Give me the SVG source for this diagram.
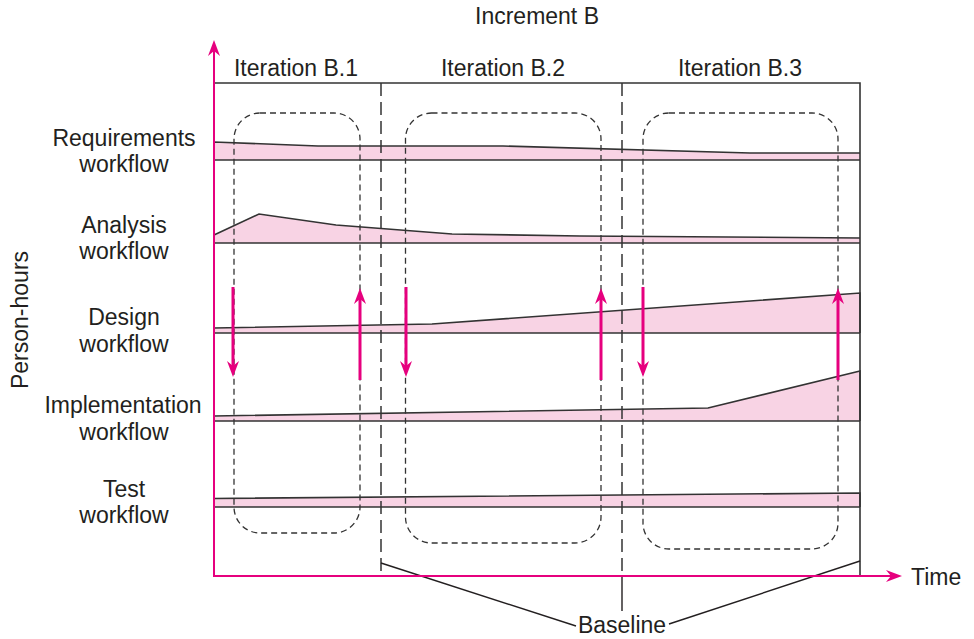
<svg xmlns="http://www.w3.org/2000/svg" width="974" height="639" viewBox="0 0 974 639">
<style>
  text { font-family: "Liberation Sans", Arial, sans-serif; font-size: 23px; fill: #231f20; }
  .lbl { text-anchor: middle; }
  .band { fill: #f8d3e4; stroke: none; }
  .edge { fill: none; stroke: #333333; stroke-width: 1.6; }
  .frame { fill: none; stroke: #333333; stroke-width: 1.6; }
  .iter { fill: none; stroke: #333333; stroke-width: 1.3; stroke-dasharray: 6 4; }
  .base { fill: none; stroke: #333333; stroke-width: 1.5; stroke-dasharray: 13 6; }
  .lead { fill: none; stroke: #231f20; stroke-width: 1.4; }
  .flow { fill: none; stroke: #e6007e; stroke-width: 3; marker-end: url(#ah); }
  .axis { fill: none; stroke: #e6007e; stroke-width: 2; marker-end: url(#ax); }
</style>
<defs>
  <marker id="ah" markerUnits="userSpaceOnUse" markerWidth="18" markerHeight="14" viewBox="0 -7 18 14" refX="5" refY="0" orient="auto">
    <path d="M0,-6 L16,0 L0,6 L5,0 Z" fill="#e6007e"/>
  </marker>
  <marker id="ax" markerUnits="userSpaceOnUse" markerWidth="18" markerHeight="14" viewBox="0 -7 18 14" refX="5" refY="0" orient="auto">
    <path d="M0,-6 L16,0 L0,6 L5,0 Z" fill="#e6007e"/>
  </marker>
</defs>

<rect width="974" height="639" fill="#ffffff"/>

<text class="lbl" x="537" y="24">Increment B</text>
<text class="lbl" x="296" y="76">Iteration B.1</text>
<text class="lbl" x="503" y="76">Iteration B.2</text>
<text class="lbl" x="740" y="76">Iteration B.3</text>
<text class="lbl" transform="translate(28,320) rotate(-90)">Person-hours</text>
<text x="911" y="585">Time</text>

<g id="requirements">
  <polygon class="band" points="214,142 318,146 503,146 750,153 860,153 860,160 214,160"/>
  <polyline class="edge" points="214,160 214,142 318,146 503,146 750,153 860,153"/>
  <line class="edge" x1="214" y1="160" x2="860" y2="160"/>
  <text class="lbl" x="124" y="146">Requirements</text>
  <text class="lbl" x="124" y="172">workflow</text>
</g>
<g id="analysis">
  <polygon class="band" points="214,235 259,214 336,225 452,234 580,236 860,238 860,243 214,243"/>
  <polyline class="edge" points="214,235 259,214 336,225 452,234 580,236 860,238"/>
  <line class="edge" x1="214" y1="243" x2="860" y2="243"/>
  <text class="lbl" x="124" y="233">Analysis</text>
  <text class="lbl" x="124" y="259">workflow</text>
</g>
<g id="design">
  <polygon class="band" points="214,328 432,324 860,293 860,333 214,333"/>
  <polyline class="edge" points="214,328 432,324 860,293 860,333"/>
  <line class="edge" x1="214" y1="333" x2="860" y2="333"/>
  <text class="lbl" x="124" y="325">Design</text>
  <text class="lbl" x="124" y="352">workflow</text>
</g>
<g id="implementation">
  <polygon class="band" points="214,416 708,408 860,371 860,421 214,421"/>
  <polyline class="edge" points="214,416 708,408 860,371 860,421"/>
  <line class="edge" x1="214" y1="421" x2="860" y2="421"/>
  <text class="lbl" x="123" y="413">Implementation</text>
  <text class="lbl" x="124" y="440">workflow</text>
</g>
<g id="test">
  <polygon class="band" points="214,498.5 860,493 860,507 214,507"/>
  <polyline class="edge" points="214,498.5 860,493 860,507"/>
  <line class="edge" x1="214" y1="507" x2="860" y2="507"/>
  <text class="lbl" x="124" y="497">Test</text>
  <text class="lbl" x="124" y="523">workflow</text>
</g>

<g id="frame">
  <polyline class="frame" points="214,83 860,83 860,576"/>
</g>

<g id="iteration-b1"><rect class="iter" x="234" y="113" width="126" height="420" rx="26" ry="26"/></g>
<g id="iteration-b2"><rect class="iter" x="405.5" y="113" width="195.5" height="430" rx="26" ry="26"/></g>
<g id="iteration-b3"><rect class="iter" x="643" y="113" width="195" height="436" rx="26" ry="26"/></g>

<g id="baseline">
  <line class="base" x1="381" y1="83" x2="381" y2="576"/>
  <line class="base" x1="622" y1="83" x2="622" y2="576"/>
  <line class="lead" x1="622" y1="576" x2="622" y2="611"/>
  <line class="lead" x1="381" y1="563" x2="576" y2="626"/>
  <line class="lead" x1="860" y1="561" x2="669" y2="624"/>
  <text class="lbl" x="622" y="633">Baseline</text>
</g>

<g id="connectors">
  <line class="flow" x1="233" y1="287" x2="233" y2="366"/>
  <line class="flow" x1="360" y1="380" x2="360" y2="299"/>
  <line class="flow" x1="406" y1="287" x2="406" y2="366"/>
  <line class="flow" x1="601" y1="380" x2="601" y2="299"/>
  <line class="flow" x1="643" y1="287" x2="643" y2="366"/>
  <line class="flow" x1="838" y1="380" x2="838" y2="299"/>
</g>

<g id="axes">
  <line class="axis" x1="214" y1="577" x2="214" y2="51"/>
  <line class="axis" x1="213" y1="576" x2="891" y2="576"/>
</g>
</svg>
